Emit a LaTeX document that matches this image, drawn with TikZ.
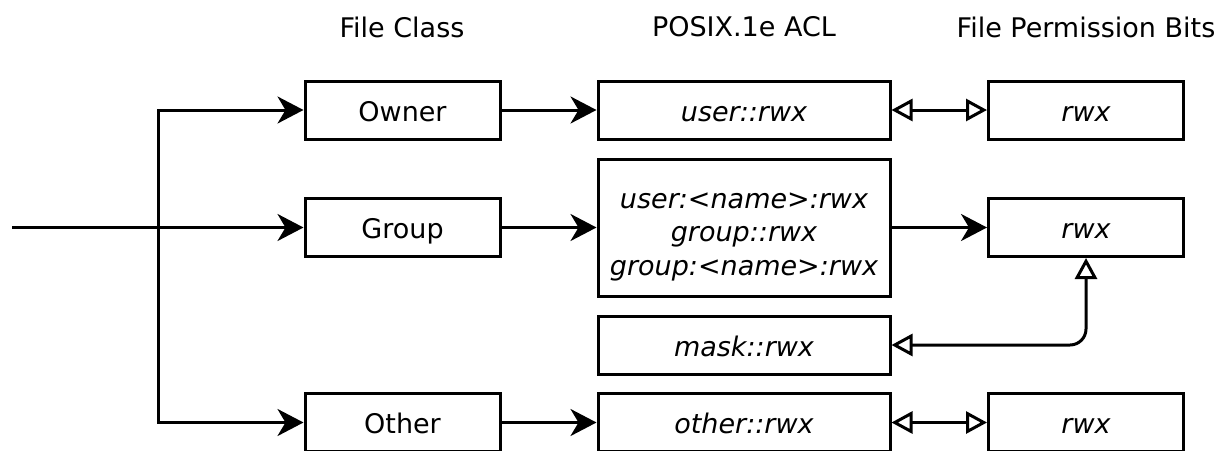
\documentclass[tikz,border=0pt]{standalone}
\usepackage{fontspec}
\setmainfont{DejaVu Sans}
\usetikzlibrary{arrows.meta}
\tikzset{
  box/.style={draw, line width=1.5pt, minimum width=97.5pt, minimum height=29pt, inner sep=0pt, text height=11pt, text depth=0pt, font=\fontsize{13.5}{16.75}\selectfont},
  aclbox/.style={box, minimum width=146pt, align=center, font=\fontsize{13.5}{16.75}\selectfont\itshape},
  bitbox/.style={box, font=\fontsize{13.5}{16.75}\selectfont\itshape},
  head/.style={font=\fontsize{13.5}{15}\selectfont},
  arr/.style={line width=1.5pt, -{Stealth[length=13pt,width=13.5pt,inset=4pt]}},
  biarr/.style={line width=1.5pt, {Triangle[open,length=10.5pt,width=11pt]}-{Triangle[open,length=10.5pt,width=11pt]}},
}
\begin{document}
\begin{tikzpicture}[x=0.5pt,y=-0.5pt]
        \useasboundingbox (0,0) rectangle (1220,450);
        % heads
        \node[head] (fileclass) at (402,27) {File Class};
        \node[head] (posixacl) at (744,27) {POSIX.1e ACL};
        \node[head] (permbits) at (1086,27) {File Permission Bits};
        % file class
        \node[box] (owner) at (402.5,110) {Owner};
        \node[box] (group) at (402.5,227.5) {Group};
        \node[box] (other) at (402.5,422.5) {Other};
        % acl
        \node[aclbox] (useracl) at (744,110) {user::rwx};
        \node[aclbox, minimum height=68.5pt, text height={}, text depth={}] (groupacl) at (744,227.5)
            {\rule{0pt}{17pt}user:<name>:rwx\\group::rwx\\group:<name>:rwx};
        \node[aclbox] (maskacl) at (744,345) {mask::rwx};
        \node[aclbox] (otheracl) at (744,422.5) {other::rwx};
        % bits
        \node[bitbox] (ownerbits) at (1086,110) {rwx};
        \node[bitbox] (groupbits) at (1086,227.5) {rwx};
        \node[bitbox] (otherbits) at (1086,422.5) {rwx};
        % input
        \coordinate (in) at (12,227.5);
        \coordinate (split) at (158,227.5);
        \draw[line width=1.7pt] (in) -- (split);
        \draw[arr] (split) |- (owner.west);
        \draw[arr] (split) -- (group.west);
        \draw[arr] (split) |- (other.west);
        % class to acl
        \draw[arr] (owner) -- (useracl);
        \draw[arr] (group) -- (groupacl);
        \draw[arr] (other) -- (otheracl);
        \draw[arr] (groupacl) -- (groupbits);
        % acl to bits
        \draw[biarr] (useracl) -- (ownerbits);
        \draw[biarr] (otheracl) -- (otherbits);
        \draw[biarr, rounded corners=8pt] (maskacl.east) -| (groupbits.south);
\end{tikzpicture}
\end{document}
